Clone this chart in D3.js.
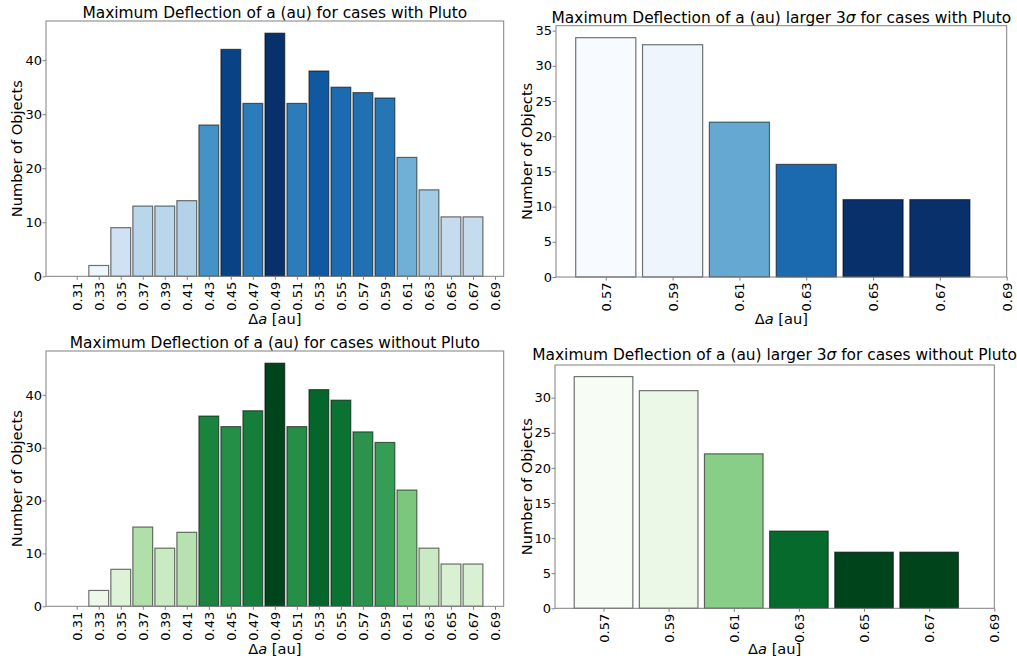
<!DOCTYPE html>
<html>
<head>
<meta charset="utf-8">
<script src="https://cdn.jsdelivr.net/npm/d3@7/dist/d3.min.js"></script>
<style>
  html, body { margin: 0; padding: 0; background: #fff; }
  svg { display: block; font-family: "DejaVu Sans", sans-serif; }
</style>
</head>
<body>
<svg id="chart" width="1017" height="662"></svg>
<script>
// ---------------- data ----------------
const binsAll = [0.31, 0.33, 0.35, 0.37, 0.39, 0.41, 0.43, 0.45, 0.47, 0.49,
                 0.51, 0.53, 0.55, 0.57, 0.59, 0.61, 0.63, 0.65, 0.67];
const countsWithPluto    = [0, 2, 9, 13, 13, 14, 28, 42, 32, 45, 32, 38, 35, 34, 33, 22, 16, 11, 11];
const countsWithoutPluto = [0, 3, 7, 15, 11, 14, 36, 34, 37, 46, 34, 41, 39, 33, 31, 22, 11, 8, 8];

const bins3s = [0.57, 0.59, 0.61, 0.63, 0.65, 0.67];
const counts3sWithPluto    = [34, 33, 22, 16, 11, 11];
const counts3sWithoutPluto = [33, 31, 22, 11, 8, 8];

const ticksAll = [0.31, 0.33, 0.35, 0.37, 0.39, 0.41, 0.43, 0.45, 0.47, 0.49,
                  0.51, 0.53, 0.55, 0.57, 0.59, 0.61, 0.63, 0.65, 0.67, 0.69];
const ticks3s = [0.57, 0.59, 0.61, 0.63, 0.65, 0.67, 0.69];

const yTicksWith = [0, 10, 20, 30, 40];
const yTicksWithout = [0, 10, 20, 30, 40];
const yTicks3sWith = [0, 5, 10, 15, 20, 25, 30, 35];
const yTicks3sWithout = [0, 5, 10, 15, 20, 25, 30];

const titleMain = "Maximum Deflection of a (au) for cases ";
const title3s = "Maximum Deflection of a (au) larger 3";

// ---------------- drawing ----------------
const svg = d3.select("#chart");
const binWidth = 0.02, rwidth = 0.9;
const TICK_FS = "13px", LABEL_FS = "14.6px", TITLE_FS = "15.4px";

function panel(o) {
  const g = svg.append("g");
  const lo = o.bins[0] - binWidth * rwidth / 2;
  const hi = o.bins[o.bins.length - 1] + binWidth * rwidth / 2;
  const margin = 0.05 * (hi - lo);
  const x = d3.scaleLinear()
    .domain([lo - margin, o.fixedRight != null ? o.fixedRight : hi + margin])
    .range([o.left, o.right]);
  const y = d3.scaleLinear()
    .domain([0, d3.max(o.counts) * 1.05])
    .range([o.bottom, o.top]);

  const vmin = d3.min(o.counts), vmax = d3.max(o.counts);
  const color = v => {
    let t = o.inverse ? 1 - (v - vmin) / (vmax - vmin) : v / vmax;
    return o.interp(t);
  };

  // bars
  g.selectAll("rect.bar")
    .data(o.bins.map((b, i) => ({ b, c: o.counts[i] })))
    .join("rect")
    .attr("class", "bar")
    .attr("x", d => x(d.b - binWidth * rwidth / 2))
    .attr("width", d => x(d.b + binWidth * rwidth / 2) - x(d.b - binWidth * rwidth / 2))
    .attr("y", d => y(d.c))
    .attr("height", d => y(0) - y(d.c))
    .attr("fill", d => color(d.c))
    .attr("stroke", "#000")
    .attr("stroke-opacity", 0.55)
    .attr("stroke-width", 1.2);

  // frame
  g.append("rect")
    .attr("x", o.left).attr("y", o.top)
    .attr("width", o.right - o.left).attr("height", o.bottom - o.top)
    .attr("fill", "none").attr("stroke", "#808080").attr("stroke-width", 1);

  // x axis
  const xa = g.append("g").attr("transform", `translate(0,${o.bottom})`)
    .call(d3.axisBottom(x).tickValues(o.xticks).tickFormat(d3.format(".2f"))
      .tickSize(3.5).tickPadding(3));
  xa.select(".domain").remove();
  xa.selectAll(".tick line").attr("stroke", "#808080");
  xa.selectAll(".tick text")
    .attr("font-size", TICK_FS).attr("fill", "#000")
    .attr("font-family", "DejaVu Sans")
    .attr("transform", "rotate(-90)")
    .attr("text-anchor", "end")
    .attr("x", -5.5).attr("y", 0).attr("dy", "0.35em");

  // y axis
  const ya = g.append("g").attr("transform", `translate(${o.left},0)`)
    .call(d3.axisLeft(y).tickValues(o.yticks).tickFormat(d3.format("d"))
      .tickSize(3.5).tickPadding(0.5));
  ya.select(".domain").remove();
  ya.selectAll(".tick line").attr("stroke", "#808080");
  ya.selectAll(".tick text")
    .attr("font-size", TICK_FS).attr("fill", "#000")
    .attr("font-family", "DejaVu Sans");

  // title
  const t = g.append("text")
    .attr("x", (o.left + o.right) / 2).attr("y", o.titleY)
    .attr("text-anchor", "middle").attr("font-size", TITLE_FS).attr("fill", "#000");
  o.titleParts.forEach(p => {
    const ts = t.append("tspan").text(p.s);
    if (p.i) ts.attr("font-style", "italic");
  });

  // x label
  const xl = g.append("text")
    .attr("x", (o.left + o.right) / 2).attr("y", o.xlabelY)
    .attr("text-anchor", "middle").attr("font-size", LABEL_FS).attr("fill", "#000");
  xl.append("tspan").text("Δ");
  xl.append("tspan").attr("font-style", "italic").text("a");
  xl.append("tspan").text(" [au]");

  // y label
  g.append("text")
    .attr("transform", `translate(${o.ylabelX},${(o.top + o.bottom) / 2}) rotate(-90)`)
    .attr("text-anchor", "middle").attr("font-size", LABEL_FS).attr("fill", "#000")
    .text("Number of Objects");
}

panel({
  bins: binsAll, counts: countsWithPluto, xticks: ticksAll, yticks: yTicksWith,
  interp: d3.interpolateBlues, inverse: false,
  left: 46, right: 503.7, top: 21, bottom: 276.3,
  titleY: 18.3, xlabelY: 323.5, ylabelX: 22,
  titleParts: [{ s: titleMain + "with Pluto" }]
});
panel({
  bins: bins3s, counts: counts3sWithPluto, xticks: ticks3s, yticks: yTicks3sWith,
  interp: d3.interpolateBlues, inverse: true, fixedRight: 0.69,
  left: 556, right: 1006.7, top: 25.7, bottom: 277,
  titleY: 22.7, xlabelY: 323.5, ylabelX: 532,
  titleParts: [{ s: title3s }, { s: "σ", i: true }, { s: " for cases with Pluto" }]
});
panel({
  bins: binsAll, counts: countsWithoutPluto, xticks: ticksAll, yticks: yTicksWithout,
  interp: d3.interpolateGreens, inverse: false,
  left: 46, right: 503.7, top: 351, bottom: 606.3,
  titleY: 348.3, xlabelY: 653.5, ylabelX: 22,
  titleParts: [{ s: titleMain + "without Pluto" }]
});
panel({
  bins: bins3s, counts: counts3sWithoutPluto, xticks: ticks3s, yticks: yTicks3sWithout,
  interp: d3.interpolateGreens, inverse: true, fixedRight: 0.69,
  left: 555, right: 994.3, top: 365, bottom: 608.3,
  titleY: 360, xlabelY: 653.5, ylabelX: 532,
  titleParts: [{ s: title3s }, { s: "σ", i: true }, { s: " for cases without Pluto" }]
});
</script>
</body>
</html>
